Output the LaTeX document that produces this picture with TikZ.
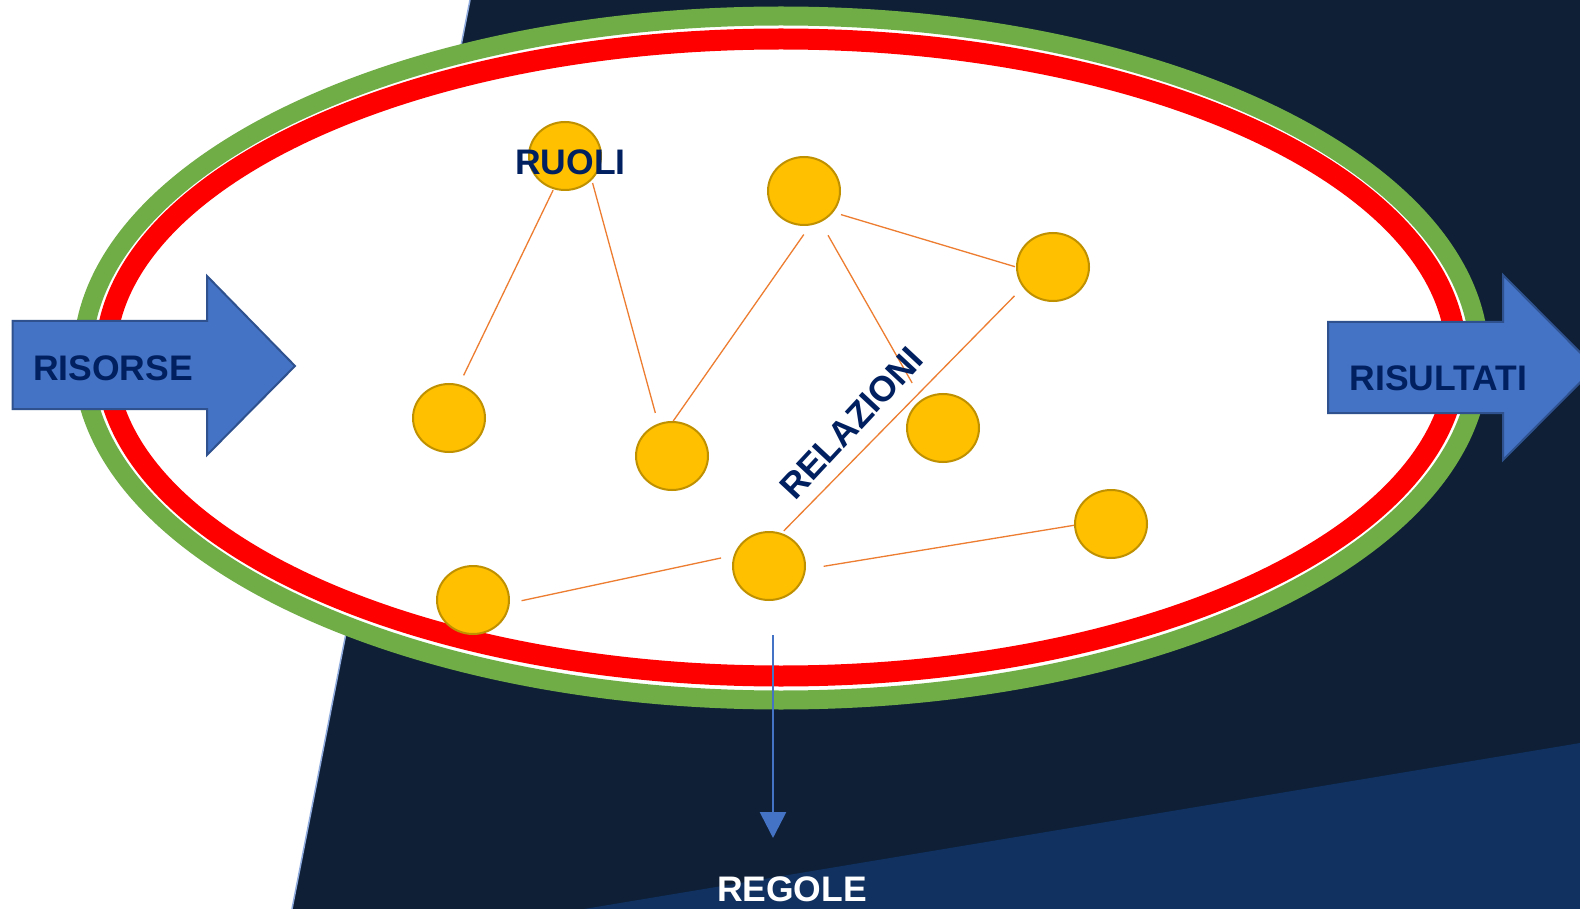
\documentclass[tikz,border=0pt]{standalone}
\usepackage{fontspec}
\setmainfont{Liberation Sans}
\usetikzlibrary{shapes.geometric,arrows.meta}
\definecolor{navybg}{RGB}{14,31,54}
\definecolor{bluebg}{RGB}{17,49,96}
\definecolor{edgeblue}{RGB}{143,170,220}
\definecolor{ringgreen}{RGB}{112,173,71}
\definecolor{ringred}{RGB}{255,0,0}
\definecolor{dotfill}{RGB}{255,192,0}
\definecolor{dotedge}{RGB}{191,144,0}
\definecolor{linkorange}{RGB}{237,125,49}
\definecolor{arrowfill}{RGB}{68,114,196}
\definecolor{arrowedge}{RGB}{47,82,143}
\definecolor{textnavy}{RGB}{0,32,96}
\begin{document}
\begin{tikzpicture}[x=1pt,y=-1pt,
  dot/.style={ellipse, draw=dotedge, fill=dotfill, line width=2pt, minimum width=72pt, minimum height=68pt, inner sep=0pt},
  link/.style={draw=linkorange, line width=1.3pt},
  lbl/.style={font=\bfseries\fontsize{35.5}{40}\selectfont, text=textnavy, inner sep=0pt},
  blockarrow/.style={fill=arrowfill, draw=arrowedge, line width=2pt, line join=miter}]
\useasboundingbox (0,0) rectangle (1580,909);
\clip (0,0) rectangle (1580,909);
% background
\fill[white] (0,0) rectangle (1580,909);
\fill[navybg] (470,0) -- (1580,0) -- (1580,909) -- (292,909) -- cycle;
\draw[edgeblue, line width=1.5pt] (470,0) -- (292,909);
\fill[bluebg] (584,909) -- (1580,743) -- (1580,909) -- cycle;
% rings
\draw[ringgreen, line width=19pt, fill=white] (781,358) ellipse [x radius=698.5pt, y radius=342pt];
\draw[ringred, line width=21pt] (781,357.5) ellipse [x radius=675.5pt, y radius=318.5pt];
% dots
\node[dot] (c1) at (565,156) {};
\node[dot] (c2) at (804,191) {};
\node[dot] (c3) at (1053,267) {};
\node[dot] (c4) at (449,418) {};
\node[dot] (c5) at (672,456) {};
\node[dot] (c6) at (943,428) {};
\node[dot] (c7) at (769,566) {};
\node[dot] (c8) at (473,600) {};
\node[dot] (c9) at (1111,524) {};
% links
\draw[link, shorten <=1pt, shorten >=10pt] (c1.251) -- (c4.73);
\draw[link, shorten <=3pt, shorten >=11pt] (c1.318) -- (c5.113);
\draw[link, shorten <=11pt] (c2.280) -- (c5.88);
\draw[link, shorten <=8pt, shorten >=1pt] (c2.324) -- (c3.180);
\draw[link, shorten <=15pt, shorten >=19pt] (c2.298) -- (c6.127);
\draw[link, shorten <=12pt, shorten >=3pt] (c3.214) -- (c7.69);
\draw[link, shorten <=12pt, shorten >=13pt] (c8.355) -- (c7.163);
\draw[link, shorten <=18pt] (c7.355) -- (c9.182);
% labels
\node[lbl, anchor=base] (ruoli) at (570.5,175) {RUOLI};
\node[lbl, rotate=47] (relazioni) at (851.5,423) {RELAZIONI};
% block arrows
\draw[blockarrow] (12.7,321) -- (207,321) -- (207,276) -- (295,366) -- (207,455) -- (207,409) -- (12.7,409) -- cycle;
\node[lbl, anchor=base] (risorse) at (113,380.7) {RISORSE};
\draw[blockarrow] (1328,322) -- (1503,322) -- (1503,275) -- (1595,367.5) -- (1503,460) -- (1503,413) -- (1328,413) -- cycle;
\node[lbl, anchor=base] (risultati) at (1438.3,390) {RISULTATI};
% rules arrow
\coordinate (rtop) at (773,635);
\coordinate (rbot) at (773,838);
\draw[arrowfill, line width=2.7pt, -{Triangle[width=26pt,length=26pt]}] (rtop) -- (rbot);
\node[lbl, text=white, anchor=base] (regole) at (792,901.7) {REGOLE};
\end{tikzpicture}
\end{document}
